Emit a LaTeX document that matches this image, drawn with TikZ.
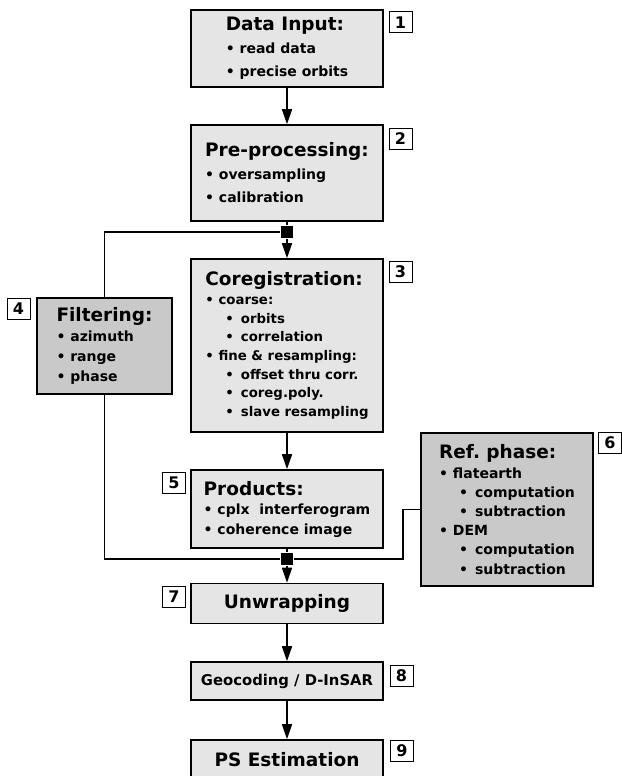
\documentclass[tikz,border=0pt]{standalone}
\usepackage{fontspec}
\setmainfont{DejaVu Sans}
\usetikzlibrary{arrows.meta}

\newcommand{\ttl}{\fontsize{18.5}{22}\selectfont}
\newcommand{\bul}{\textbullet\ }
\newcommand{\subbul}{\hspace*{20pt}\textbullet\hspace{7pt}}
\frenchspacing

\begin{document}
\begin{tikzpicture}[x=1pt,y=-1pt,line width=1.6pt,
    stage/.style={draw,fill=gray!20,minimum width=192pt,inner sep=0pt,align=left,
      font=\bfseries\fontsize{14}{19.5}\selectfont},
    side/.style={stage,fill=black!21},
    tag/.style={draw,line width=1pt,fill=white,minimum width=23pt,minimum height=21pt,
      inner sep=0pt,font=\bfseries\fontsize{16}{16}\selectfont},
    junc/.style={fill=black,minimum size=12pt,inner sep=0pt},
    flow/.style={-{Triangle[length=15pt,width=10pt]}}]
  \useasboundingbox (0,0) rectangle (621,776);

  % main chain
  \node[stage,minimum height=77pt,font=\bfseries\fontsize{14}{23}\selectfont] (input) at (287,48.5)
    {{\ttl Data Input:}\\ \bul read data\\ \bul precise orbits};
  \node[stage,minimum height=96pt,font=\bfseries\fontsize{14}{23}\selectfont] (prep) at (287,173)
    {{\ttl Pre-processing:}\\ \bul oversampling\\ \bul calibration};
  \node[stage,minimum height=173pt,font=\bfseries\fontsize{13.3}{18.7}\selectfont] (coreg) at (287,345.5)
    {{\ttl Coregistration:}\\ \bul coarse:\\ \subbul orbits\\ \subbul correlation\\
     \bul fine \& resampling:\\ \subbul offset thru corr.\\ \subbul coreg.poly.\\ \subbul slave resampling};
  \node[stage,minimum height=78pt] (prod) at (287,509)
    {{\ttl Products:}\\ \bul cplx\ \ interferogram\\ \bul coherence image};
  \node[stage,minimum height=40pt] (unwrap) at (287,603.5) {\ttl Unwrapping};
  \node[stage,minimum height=38pt,font=\bfseries\fontsize{14.8}{18}\selectfont] (geo) at (287,681) {Geocoding / D-InSAR};
  \node[stage,minimum height=39pt] (ps) at (287,759.5) {\ttl PS Estimation};

  % side boxes
  \node[side,minimum width=135pt,minimum height=96pt,font=\bfseries\fontsize{14}{20}\selectfont] (filt) at (104.5,346)
    {{\ttl Filtering:}\\ \bul azimuth\\ \bul range\\ \bul phase};
  \node[side,minimum width=172pt,minimum height=153pt,font=\bfseries\fontsize{14}{19.2}\selectfont] (ref) at (507,509.5)
    {{\ttl Ref. phase:}\\ \bul flatearth\\ \subbul computation\\ \subbul subtraction\\
     \bul DEM\\ \subbul computation\\ \subbul subtraction};

  % step numbers
  \node[tag] (n1) at (400.5,22.5) {1};
  \node[tag] (n2) at (400.5,138.5) {2};
  \node[tag] (n3) at (400.5,272) {3};
  \node[tag] (n4) at (18.5,309) {4};
  \node[tag] (n5) at (174,482.5) {5};
  \node[tag] (n6) at (610,443) {6};
  \node[tag] (n7) at (174,596.5) {7};
  \node[tag] (n8) at (401.5,676) {8};
  \node[tag] (n9) at (402,751) {9};

  % junctions
  \node[junc] (j1) at (287,232) {};
  \node[junc] (j2) at (287,559) {};
  \coordinate (bend) at (403,509.5);

  % connectors
  \draw[flow] (input) -- (prep);
  \draw (prep) -- (j1);
  \draw[flow] (j1) -- (coreg);
  \draw (filt.north) |- (j1.west);
  \draw[flow] (coreg) -- (prod);
  \draw (prod) -- (j2);
  \draw (filt.south) |- (j2.west);
  \draw (ref.west) -- (bend) |- (j2.east);
  \draw[flow] (j2) -- (unwrap);
  \draw[flow] (unwrap) -- (geo);
  \draw[flow] (geo) -- (ps);
\end{tikzpicture}
\end{document}
